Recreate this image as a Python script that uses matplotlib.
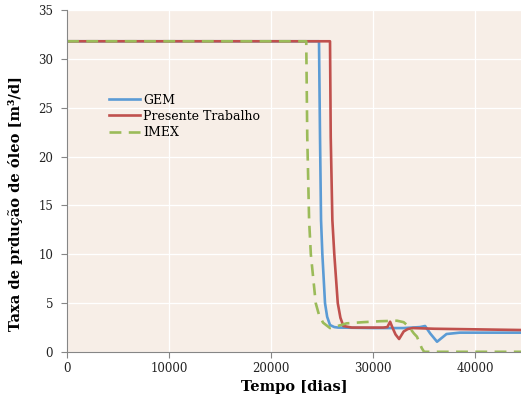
"""Oil production rate comparison: GEM, IMEX and present work."""

import matplotlib
matplotlib.use("Agg")
import matplotlib.pyplot as plt

# time [days] and oil rate [m3/d]
gem_t = [0, 24700, 24800, 24900, 25030, 25290, 25500, 25780, 26200, 26570,
         30000, 33000, 34600, 35100, 35600, 36270, 36800, 37200, 38500, 44500]
gem_q = [31.8, 31.8, 22.0, 13.5, 10.0, 5.0, 3.6, 2.76, 2.55, 2.5,
         2.45, 2.45, 2.55, 2.66, 1.9, 1.05, 1.5, 1.84, 1.98, 1.98]

red_t = [0, 25780, 25850, 26010, 26200, 26540, 26800, 27090, 27910, 31000,
         31400, 31670, 31900, 32200, 32550, 33000, 33400, 33900, 36000, 44500]
red_q = [31.8, 31.8, 22.0, 13.5, 10.0, 5.0, 3.5, 2.66, 2.5, 2.5,
         2.55, 3.1, 2.5, 1.8, 1.33, 2.1, 2.35, 2.45, 2.38, 2.25]

imex_t = [0, 23450, 23550, 23730, 23900, 24380, 24700, 25100, 25780, 26500,
          27400, 29000, 30700, 32350, 33000, 33500, 34000, 34300, 34770, 35000, 44500]
imex_q = [31.8, 31.8, 22.0, 13.5, 10.0, 5.0, 3.8, 3.0, 2.45, 2.65,
          2.93, 3.05, 3.15, 3.2, 3.05, 2.6, 1.9, 1.57, 0.4, 0.02, 0.02]

labels = ["GEM", "Presente Trabalho", "IMEX"]
x_ticks = [0, 10000, 20000, 30000, 40000]
y_ticks = [0, 5, 10, 15, 20, 25, 30, 35]

BLUE = "#5B9BD5"
RED = "#C0504D"
GREEN = "#9BBB59"

plt.rcParams["font.family"] = ["DejaVu Serif"]

fig = plt.figure(figsize=(5.21, 4.05), dpi=100)
ax = fig.add_axes([67 / 521, 53 / 405, 454 / 521, 342 / 405])
ax.set_facecolor("#F7EEE7")

ax.plot(gem_t, gem_q, color=BLUE, lw=1.9, label=labels[0])
ax.plot(red_t, red_q, color=RED, lw=1.9, label=labels[1])
ax.plot(imex_t, imex_q, color=GREEN, lw=1.9, ls=(0, (4.5, 2.8)), label=labels[2])

ax.set_xlim(0, 44500)
ax.set_ylim(0, 35)
ax.set_xticks(x_ticks)
ax.set_yticks(y_ticks)
ax.grid(True, color="white", lw=0.9)
ax.set_axisbelow(True)
for side in ("top", "right"):
    ax.spines[side].set_visible(False)
for side in ("left", "bottom"):
    ax.spines[side].set_color("#868686")
ax.tick_params(colors="#868686", labelcolor="#222222", labelsize=8.5, length=4)
ax.tick_params(axis="y", pad=6)

ax.set_xlabel("Tempo [dias]", fontsize=10.5, fontweight="bold", labelpad=3)
ax.set_ylabel("Taxa de prdução de óleo [m³/d]", fontsize=10.5, fontweight="bold")
ax.yaxis.set_label_coords(-0.098, 0.433)

ax.legend(loc="upper left", bbox_to_anchor=(0.082, 0.77), frameon=False,
          fontsize=9, handlelength=2.5, handletextpad=0.2, labelspacing=0.25,
          borderaxespad=0)

fig.savefig("out.png", dpi=100, facecolor="white")
